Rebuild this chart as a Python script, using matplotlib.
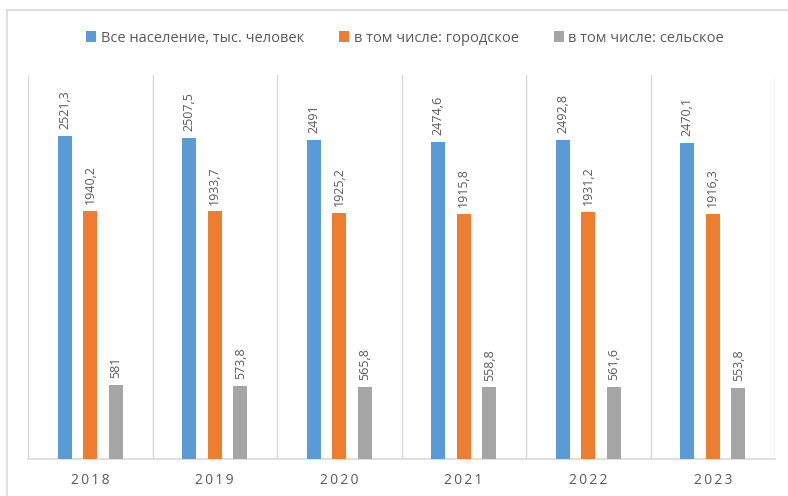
import matplotlib.pyplot as plt
import numpy as np
from matplotlib.lines import Line2D

years = ["2018", "2019", "2020", "2021", "2022", "2023"]
total = [2521.3, 2507.5, 2491, 2474.6, 2492.8, 2470.1]
urban = [1940.2, 1933.7, 1925.2, 1915.8, 1931.2, 1916.3]
rural = [581, 573.8, 565.8, 558.8, 561.6, 553.8]
series_names = ["Все население, тыс. человек", "в том числе: городское", "в том числе: сельское"]
colors = ["#5b9bd5", "#ed7d31", "#a5a5a5"]

plt.rcParams['font.family'] = ['Open Sans', 'DejaVu Sans']
text_color = "#595959"
grid_color = "#d9d9d9"

fig = plt.figure(figsize=(7.88, 4.96), dpi=100)
ax = fig.add_axes([28 / 788, 37 / 496, 747 / 788, 384 / 496])

x = np.arange(len(years))
width = 0.112
step = 0.205

def fmt(v):
    s = f"{v:.1f}".replace(".", ",")
    return s[:-2] if s.endswith(",0") else s

for i, (vals, name, c) in enumerate(zip([total, urban, rural], series_names, colors)):
    pos = x + (i - 1) * step
    ax.bar(pos, vals, width, color=c, label=name, zorder=3)
    for p, v in zip(pos, vals):
        ax.annotate(fmt(v), (p, v), xytext=(0, 5), textcoords="offset points",
                    rotation=90, ha="center", va="bottom", fontsize=9, color=text_color)

# separators between categories
for b in np.arange(-0.5, len(years), 1.0):
    ax.axvline(b, color=grid_color, lw=1, zorder=1)

ax.set_xlim(-0.5, len(years) - 0.5)
ax.set_ylim(0, 3000)
ax.set_xticks(x)
ax.set_xticklabels(["\u2009".join(y) for y in years], fontsize=10, color=text_color)
ax.tick_params(axis="x", length=0, pad=10)
ax.set_yticks([])
for side in ["top", "left", "right"]:
    ax.spines[side].set_visible(False)
ax.spines["bottom"].set_color(grid_color)
ax.spines["bottom"].set_linewidth(1.2)

fig.legend(loc="center", bbox_to_anchor=(405 / 788, 1 - 38 / 496), ncol=3, frameon=False,
           fontsize=10.5, labelcolor=text_color, handlelength=0.7, handleheight=0.7,
           handletextpad=0.3, columnspacing=2.4)

# outer chart border
fig.add_artist(Line2D([7 / 788, 1], [1 - 10 / 496] * 2, color=grid_color, lw=1.2))
fig.add_artist(Line2D([7 / 788] * 2, [0, 1 - 10 / 496], color=grid_color, lw=1.2))

fig.savefig("out.png", dpi=100)
